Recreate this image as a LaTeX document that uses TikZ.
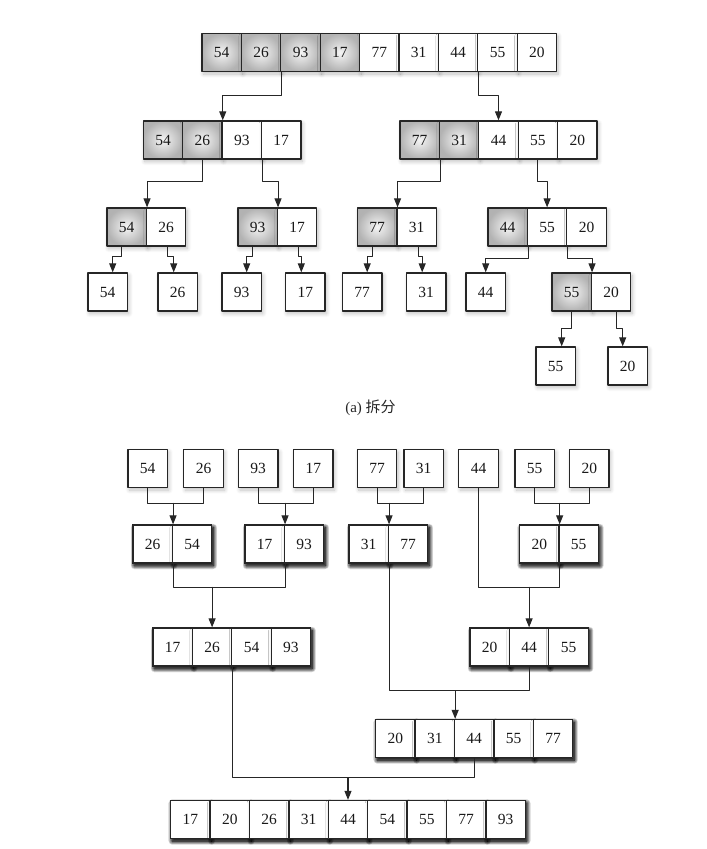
\documentclass[tikz,border=0pt]{standalone}
\usepackage{fontspec}
\setmainfont{Liberation Serif}
\newfontfamily\cjk{Noto Sans CJK SC}
\usetikzlibrary{arrows.meta,calc,shadows.blur}

\def\cw{39.4}
\tikzset{
  cell/.style={draw=black!85,line width=1.3pt,fill=white,text=black!90,
    minimum width=39.4pt,minimum height=38pt,inner sep=0pt,
    font=\fontsize{15.5}{18}\selectfont,
    blur shadow={shadow xshift=1.5pt,shadow yshift=-2.5pt,shadow blur radius=4pt,
      shadow blur steps=8,shadow opacity=25}},
  hot/.style={shade,inner color=black!4,outer color=black!30},
  wire/.style={draw=black!85,line width=1.1pt},
  link/.style={wire,->}
}
% one row of cells: name, left x, centre y, number of shaded cells, values
\newcommand\cellrow[5]{%
  \foreach \v [count=\i] in {#5}{%
    \ifnum\i>#4\relax\tikzset{cur/.style={cell}}\else\tikzset{cur/.style={cell,hot}}\fi
    \node[cur] (#1-\i) at ({#2+(\i-0.5)*\cw},#3) {\v};
  }}

\begin{document}
\begin{tikzpicture}[x=1pt,y=-1pt,line cap=round,line join=round,
  >={Triangle[length=9pt,width=7pt]}]
  \useasboundingbox (0,0) rectangle (707,849);
  % (a) split
  \cellrow{r1}{202}{52.5}{4}{54,26,93,17,77,31,44,55,20}
  \cellrow{r2a}{143.3}{140}{2}{54,26,93,17}
  \cellrow{r2b}{400}{140}{2}{77,31,44,55,20}
  \cellrow{r3a}{107}{227}{1}{54,26}
  \cellrow{r3b}{238}{227}{1}{93,17}
  \cellrow{r3c}{357.5}{227}{1}{77,31}
  \cellrow{r3d}{488}{227}{1}{44,55,20}
  \cellrow{r4a}{88}{292}{0}{54}
  \cellrow{r4b}{158}{292}{0}{26}
  \cellrow{r4c}{222}{292}{0}{93}
  \cellrow{r4d}{285.6}{292}{0}{17}
  \cellrow{r4e}{342.5}{292}{0}{77}
  \cellrow{r4f}{406.5}{292}{0}{31}
  \cellrow{r4g}{466}{292}{0}{44}
  \cellrow{r4h}{552}{292}{1}{55,20}
  \cellrow{r5a}{536}{366}{0}{55}
  \cellrow{r5b}{608}{366}{0}{20}
  \draw[link] (r1-2.south east) -- ++(0,23) -| (r2a-2.north east);
  \draw[link] (r1-7.south east) -- ++(0,23) -| (r2b-3.north);
  \draw[link] (r2a-2.south) -- ++(0,22) -| (r3a-1.north east);
  \draw[link] (r2a-3.south east) -- ++(0,22) -| (r3b-1.north east);
  \draw[link] (r2b-1.south east) -- ++(0,22) -| (r3c-1.north east);
  \draw[link] (r2b-4.south) -- ++(0,22) -| (r3d-2.north);
  \draw[link] ($(r3a-1.south)+(-5,0)$) -- ++(0,10) -| ($(r4a-1.north)+(5,0)$);
  \draw[link] ($(r3a-2.south)+(1,0)$) -- ++(0,10) -| ($(r4b-1.north)+(-4,0)$);
  \draw[link] ($(r3b-1.south)+(-5,0)$) -- ++(0,10) -| ($(r4c-1.north)+(5,0)$);
  \draw[link] ($(r3b-2.south)+(1,0)$) -- ++(0,10) -| ($(r4d-1.north)+(-4,0)$);
  \draw[link] ($(r3c-1.south)+(-5,0)$) -- ++(0,10) -| ($(r4e-1.north)+(5,0)$);
  \draw[link] ($(r3c-2.south)+(2,0)$) -- ++(0,10) -| ($(r4f-1.north)+(-4,0)$);
  \draw[link] (r3d-1.south east) -- ++(0,12) -| (r4g-1.north);
  \draw[link] (r3d-2.south east) -- ++(0,12) -| (r4h-1.north east);
  \draw[link] (r4h-1.south) -- ++(0,17) -| ($(r5a-1.north)+(6,0)$);
  \draw[link] ($(r4h-2.south)+(5,0)$) -- ++(0,17) -| ($(r5b-1.north)+(-5,0)$);
  \node[font=\fontsize{15}{18}\selectfont,text=black!85] (capa) at (370.5,408) {(a) {\cjk 拆分}};
  % (b) merge
  \foreach \px/\pv [count=\k] in {128/54,183.8/26,238.5/93,293.6/17,357.4/77,404/31,458.8/44,515/55,569.6/20}
    \cellrow{s\k}{\px}{468.5}{0}{\pv}
  \cellrow{m2a}{133}{544}{0}{26,54}
  \cellrow{m2b}{245}{544}{0}{17,93}
  \cellrow{m2c}{349}{544}{0}{31,77}
  \cellrow{m2d}{519.6}{544}{0}{20,55}
  \cellrow{m3a}{153}{647}{0}{17,26,54,93}
  \cellrow{m3b}{470}{647}{0}{20,44,55}
  \cellrow{m4}{375.7}{738.5}{0}{20,31,44,55,77}
  \cellrow{m5}{170.7}{819.5}{0}{17,20,26,31,44,54,55,77,93}
  \coordinate (j1) at ($(m2a-1.north east)+(0,-21)$);
  \coordinate (j2) at ($(m2b-1.north east)+(0,-21)$);
  \coordinate (j3) at ($(m2c-1.north east)+(0,-21)$);
  \coordinate (j4) at ($(m2d-1.north east)+(0,-21)$);
  \coordinate (j5) at ($(m3a-2.north)+(0,-40)$);
  \coordinate (j6) at ($(m3b-2.north)+(0,-40)$);
  \coordinate (j7) at ($(m4-2.north east)+(0,-28)$);
  \coordinate (j8) at ($(m5-5.north)+(0,-22)$);
  \draw[wire] (s1-1.south) |- (j1) -| (s2-1.south);
  \draw[link] (j1) -- (m2a-1.north east);
  \draw[wire] (s3-1.south) |- (j2) -| (s4-1.south);
  \draw[link] (j2) -- (m2b-1.north east);
  \draw[wire] (s5-1.south) |- (j3) -| (s6-1.south);
  \draw[link] (j3) -- (m2c-1.north east);
  \draw[wire] (s8-1.south) |- (j4) -| (s9-1.south);
  \draw[link] (j4) -- (m2d-1.north east);
  \draw[wire] (m2a-1.south east) |- (j5) -| (m2b-1.south east);
  \draw[link] (j5) -- (m3a-2.north);
  \draw[wire] (s7-1.south) |- (j6) -| (m2d-1.south east);
  \draw[link] (j6) -- (m3b-2.north);
  \draw[wire] (m2c-1.south east) |- (j7) -| (m3b-2.south);
  \draw[link] (j7) -- (m4-2.north east);
  \draw[wire] (m3a-2.south east) |- (j8) -| (m4-3.south);
  \draw[link] (j8) -- (m5-5.north);
\end{tikzpicture}
\end{document}
